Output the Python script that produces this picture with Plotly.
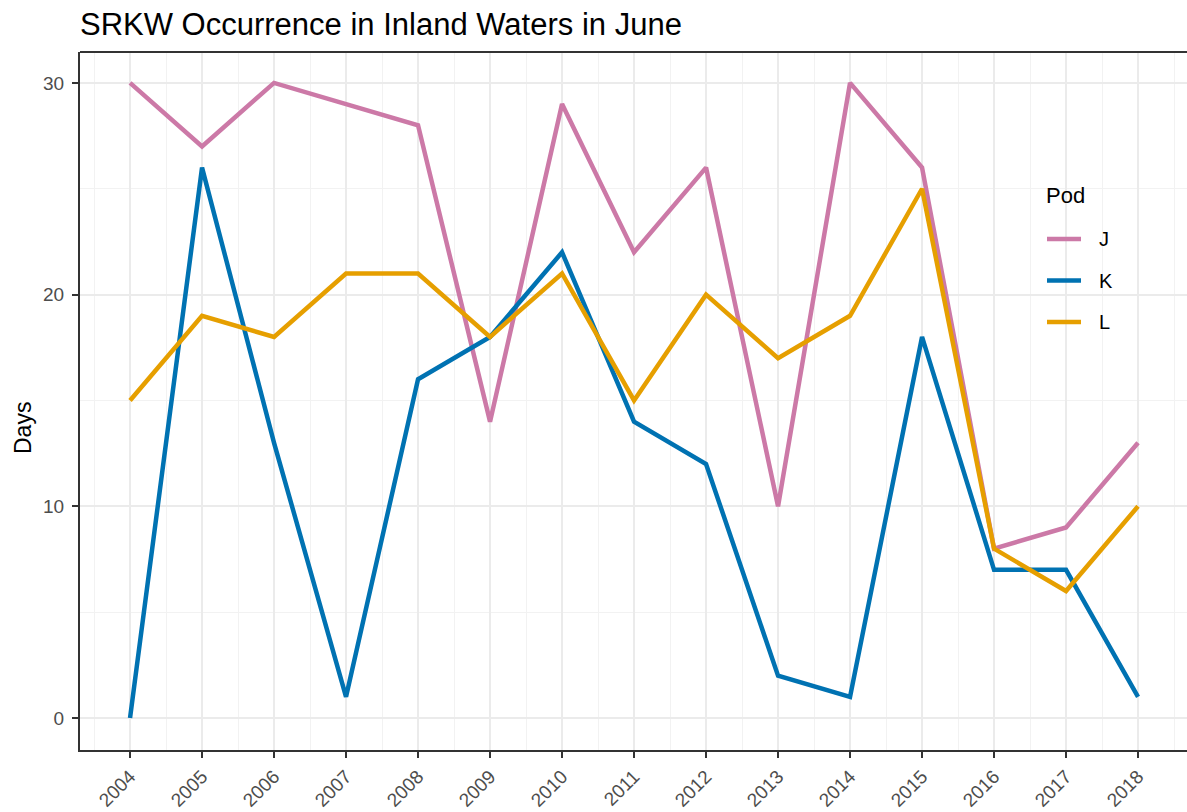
import plotly.graph_objects as go

# data
years = list(range(2004, 2019))
pod_j = [30, 27, 30, 29, 28, 14, 29, 22, 26, 10, 30, 26, 8, 9, 13]
pod_k = [0, 26, 13, 1, 16, 18, 22, 14, 12, 2, 1, 18, 7, 7, 1]
pod_l = [15, 19, 18, 21, 21, 18, 21, 15, 20, 17, 19, 25, 8, 6, 10]
pods = ["J", "K", "L"]
colors = ["#CC79A7", "#0072B2", "#E69F00"]

# the panel runs past the right edge of the window, as in the reference
W, H = 1196, 812
ML, MR, MT, MB = 80, 0, 52, 62
PW, PH = W - ML - MR, H - MT - MB


def px(x):
    return (x - ML) / PW


def py(y):
    return (H - MB - y) / PH


FONT = "Liberation Sans, Arial, sans-serif"

fig = go.Figure()
for name, vals, col in zip(pods, [pod_j, pod_k, pod_l], colors):
    fig.add_trace(go.Scatter(x=years, y=vals, mode="lines", name=name,
                             line=dict(color=col, width=4.5), showlegend=False))

# legend drawn by hand so spacing matches ggplot
shapes = [dict(type="rect", xref="paper", yref="paper", x0=px(1030), x1=px(1126),
               y0=py(342), y1=py(172), fillcolor="white", line=dict(width=0), layer="below"),
          # top border of the panel
          dict(type="line", xref="paper", yref="paper", x0=0, x1=1, y0=1, y1=1,
               line=dict(color="#333333", width=2))]
annotations = [dict(text="Pod", xref="paper", yref="paper", x=px(1044), y=py(195),
                    xanchor="left", yanchor="middle", showarrow=False,
                    font=dict(family=FONT, size=22, color="black")),
               dict(text="Days", xref="paper", yref="paper", x=px(23), y=py(428),
                    xanchor="center", yanchor="middle", textangle=-90, showarrow=False,
                    font=dict(family=FONT, size=23, color="black"))]
for i, (name, col) in enumerate(zip(pods, colors)):
    yy = 239 + i * 41.5
    shapes.append(dict(type="line", xref="paper", yref="paper", x0=px(1047), x1=px(1081),
                       y0=py(yy), y1=py(yy), line=dict(color=col, width=4.5)))
    annotations.append(dict(text=name, xref="paper", yref="paper", x=px(1097), y=py(yy),
                            xanchor="left", yanchor="middle", showarrow=False,
                            font=dict(family=FONT, size=20, color="black")))

fig.update_layout(
    width=W, height=H,
    margin=dict(l=ML, r=MR, t=MT, b=MB, autoexpand=False),
    paper_bgcolor="white", plot_bgcolor="white",
    title=dict(text="SRKW Occurrence in Inland Waters in June", x=px(80), xref="paper",
               xanchor="left", y=1 - 24 / H, yanchor="middle", automargin=False,
               font=dict(family=FONT, size=31, color="black")),
    shapes=shapes, annotations=annotations,
    showlegend=False,
)
fig.update_xaxes(
    range=[2003.305, 2003.305 + PW / 72.0], tickmode="array", tickvals=years,
    ticktext=[str(y) for y in years],
    tickangle=-45, tickfont=dict(family=FONT, size=19, color="#4D4D4D"),
    ticks="outside", ticklen=6, tickwidth=2, tickcolor="#333333", automargin=False,
    showline=True, linecolor="#333333", linewidth=2,
    showgrid=True, gridcolor="#EBEBEB", gridwidth=2, zeroline=False,
    minor=dict(tick0=2003.5, dtick=1, showgrid=True, gridcolor="#F2F2F2", gridwidth=1),
)
fig.update_yaxes(
    range=[-1.51, 31.46], tickvals=[0, 10, 20, 30], ticklabelstandoff=4,
    tickfont=dict(family=FONT, size=19, color="#4D4D4D"),
    ticks="outside", ticklen=6, tickwidth=2, tickcolor="#333333", automargin=False,
    showline=True, linecolor="#333333", linewidth=2,
    showgrid=True, gridcolor="#EBEBEB", gridwidth=2, zeroline=False,
    minor=dict(tick0=5, dtick=10, showgrid=True, gridcolor="#F2F2F2", gridwidth=1),
)

# page body has a default 8px margin; drop it so the figure sits at (0, 0)
fig.write_html("out.html", config={"displayModeBar": False},
               post_script="document.body.style.margin='0';document.body.style.overflow='hidden';")
